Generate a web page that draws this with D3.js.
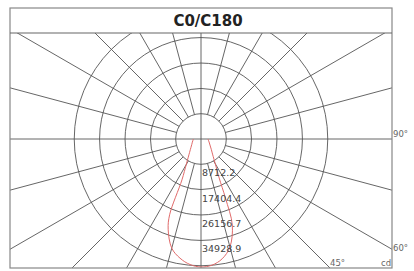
<!DOCTYPE html>
<html>
<head>
<meta charset="utf-8">
<script src="https://cdn.jsdelivr.net/npm/d3@7"></script>
<style>
  body { margin: 0; background: #fff; }
  svg { display: block; font-family: "DejaVu Sans", Verdana, sans-serif; }
</style>
</head>
<body>
<div id="grafica"></div>
<script>
// ---- data ----
var title = "C0/C180";
var ringValues = [8712.2, 17404.4, 26156.7, 34928.9, 43651.1];
var angleLabels = ["90°", "60°", "45°"];
var unitLabel = "cd";

// gamma angles (deg) and intensities (cd) for both half planes
var gammas = [0, 5, 10, 15, 20, 22.5, 25, 30, 35, 40, 45, 50, 60, 70, 80, 90];
var c0 = [44080, 43390, 41670, 38920, 33060, 28240, 15500, 10190, 7650, 6160, 5200, 4510, 3650, 3170, 2820, 2650];
var c180 = [44080, 43600, 41900, 38500, 31500, 22000, 14800, 9800, 7300, 5900, 5000, 4300, 3450, 2950, 2600, 2450];

// ---- layout ----
var W = 414, H = 271;
var frame = { left: 10, right: 392, top: 8, head: 33, bottom: 268 };
var cx = 201, cy = 139;

var svg = d3.select("#grafica")
  .append("svg")
  .attr("width", W)
  .attr("height", H);

// radius scale
var r = d3.scaleLinear()
  .domain([0, 43561])
  .range([0, 126.5]);

// clip for the plot area
svg.append("clipPath")
  .attr("id", "plotclip")
  .append("rect")
  .attr("x", frame.left)
  .attr("y", frame.head)
  .attr("width", frame.right - frame.left)
  .attr("height", frame.bottom - frame.head);

var grid = svg.append("g")
  .attr("clip-path", "url(#plotclip)")
  .append("g")
  .attr("transform", "translate(" + cx + "," + cy + ")");

// rings
grid.selectAll("circle.ring")
  .data(ringValues)
  .enter()
  .append("circle")
  .attr("class", "ring")
  .attr("r", function (d) { return r(d); })
  .style("fill", "none")
  .style("stroke", "#555")
  .style("stroke-width", 0.9);

// spokes every 15 deg, starting at the first ring
var spokes = d3.range(0, 360, 15).filter(function (a) { return a % 90 != 0; });
grid.selectAll("line.spoke")
  .data(spokes)
  .enter()
  .append("line")
  .attr("x1", function (a) { return r(ringValues[0]) * Math.sin(a * Math.PI / 180); })
  .attr("y1", function (a) { return r(ringValues[0]) * Math.cos(a * Math.PI / 180); })
  .attr("x2", function (a) { return 500 * Math.sin(a * Math.PI / 180); })
  .attr("y2", function (a) { return 500 * Math.cos(a * Math.PI / 180); })
  .style("stroke", "#555")
  .style("stroke-width", 0.9);

// main axes through the centre
grid.append("line")
  .attr("x1", -500).attr("x2", 500).attr("y1", 0).attr("y2", 0)
  .style("stroke", "#555").style("stroke-width", 0.9);
grid.append("line")
  .attr("x1", 0).attr("x2", 0).attr("y1", -500).attr("y2", 500)
  .style("stroke", "#555").style("stroke-width", 0.9);

// intensity curve: C0 on the left, C180 on the right
var pts = [];
for (var i = gammas.length - 1; i >= 0; i--) pts.push([-gammas[i], c0[i]]);
for (var j = 1; j < gammas.length; j++) pts.push([gammas[j], c180[j]]);

var curve = d3.lineRadial()
  .angle(function (d) { return Math.PI - d[0] * Math.PI / 180; })
  .radius(function (d) { return r(d[1]); })
  .curve(d3.curveCatmullRom);

grid.append("path")
  .datum(pts)
  .attr("d", curve)
  .style("fill", "none")
  .style("stroke", "#e06a6a")
  .style("stroke-width", 1);

// ring value labels along the downward axis
grid.selectAll("text.val")
  .data(ringValues)
  .enter()
  .append("text")
  .attr("x", 1)
  .attr("y", function (d) { return r(d) + 12; })
  .text(function (d) { return d.toFixed(1); })
  .style("font-size", "9.5px")
  .style("fill", "#444");

// frame + title band
svg.append("rect")
  .attr("x", frame.left).attr("y", frame.top)
  .attr("width", frame.right - frame.left)
  .attr("height", frame.bottom - frame.top)
  .style("fill", "none")
  .style("stroke", "#888")
  .style("stroke-width", 1.2);
svg.append("line")
  .attr("x1", frame.left).attr("x2", frame.right)
  .attr("y1", frame.head).attr("y2", frame.head)
  .style("stroke", "#666")
  .style("stroke-width", 1.2);

svg.append("text")
  .attr("x", 208)
  .attr("y", 26)
  .attr("text-anchor", "middle")
  .style("font-size", "15px")
  .style("font-weight", "bold")
  .style("fill", "#222")
  .text(title);

// angle labels at the ends of the spokes
var angPos = [[frame.right + 1, cy - 2], [frame.right + 1, 251], [330, 266]];
svg.selectAll("text.ang")
  .data(angleLabels)
  .enter()
  .append("text")
  .attr("x", function (d, i) { return angPos[i][0]; })
  .attr("y", function (d, i) { return angPos[i][1]; })
  .text(function (d) { return d; })
  .style("font-size", "8.5px")
  .style("fill", "#666");

svg.append("text")
  .attr("x", 381)
  .attr("y", 266)
  .text(unitLabel)
  .style("font-size", "8.5px")
  .style("fill", "#666");
</script>
</body>
</html>
